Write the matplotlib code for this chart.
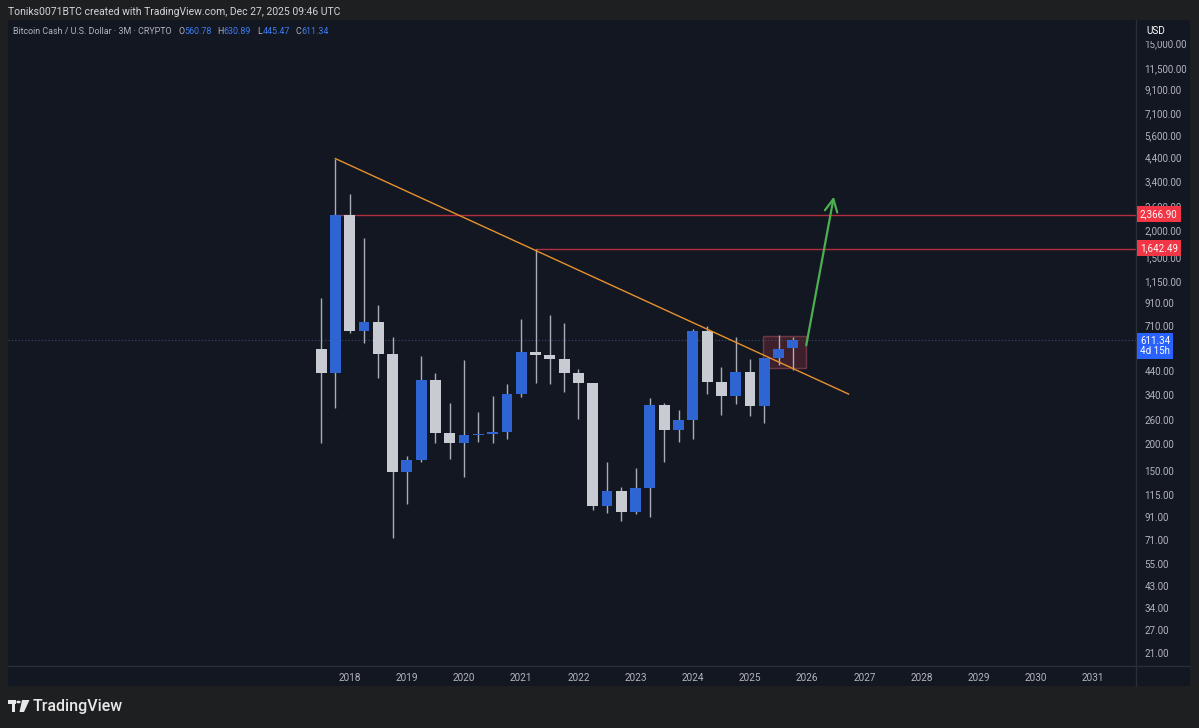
import matplotlib.pyplot as plt
import matplotlib.patches as mpatches
from matplotlib.ticker import FixedLocator, NullLocator

plt.rcParams['font.family'] = ['Roboto', 'DejaVu Sans']

# quarterly candles, 2017 Q3 .. 2025 Q4
opens = [554, 431, 2367, 677, 744, 525, 147, 168, 398, 226, 202, 219, 222.5, 227, 341, 538, 523,
         501, 428, 384, 102.7, 120.7, 96.3, 124, 304, 232, 258.6, 677, 391, 336, 433, 302, 503, 560.78]
highs = [967, 4330, 2947, 1834, 891, 635, 175.5, 516, 431, 310, 494, 281, 336, 380, 771, 1642.49, 802,
         734, 448, 386, 165, 126, 153.7, 327, 310, 288, 690, 713, 459, 635, 498, 507, 647, 630.89]
lows = [202, 293, 660, 595, 406, 72.3, 104.6, 165, 201, 169, 139.5, 204, 201, 211, 332, 384, 381,
        350, 261, 98, 94.6, 87.4, 94, 90.6, 165, 205, 211, 342, 273, 307, 271, 250, 468, 445.47]
closes = [431, 2367, 677, 744, 525, 147, 168, 398, 226, 202, 219, 222.5, 227, 341, 538, 523, 501,
          428, 384, 102.7, 120.7, 96.3, 124, 304, 232, 258.6, 677, 391, 336, 433, 302, 503, 558, 611.34]

years = list(range(2018, 2032))
year_idx = [2 + 4 * i for i in range(len(years))]

price_ticks = [21, 27, 34, 43, 55, 71, 91, 115, 150, 200, 260, 340, 440, 710, 910, 1150, 1500,
               2000, 2600, 3400, 4400, 5600, 7100, 9100, 11500, 15000]

level_hi = 2366.90
level_lo = 1642.49
last_price = 611.34

trend_x = [1, 36.9]
trend_y = [4330, 342]
box_x = [30.9, 33.9]
box_y = [453, 640]
arrow_from = (33.9, 562)
arrow_to = (35.9, 2960)

W, H = 1199, 728
bg_outer = '#1e1f21'
bg_panel = '#131722'
txt = '#b2b5be'
blue = '#2f65d3'
gray = '#c8cbd2'

fig = plt.figure(figsize=(W / 100, H / 100), dpi=100, facecolor=bg_outer)


def fx(px):
    return px / W


def fy(py):
    return 1 - py / H


# panel behind chart + axes
fig.add_artist(mpatches.Rectangle((fx(8), fy(686)), fx(1190 - 8), (686 - 20) / H,
                                  transform=fig.transFigure, facecolor=bg_panel, edgecolor='none', zorder=0))
ax = fig.add_axes([fx(8), fy(666), fx(1136 - 8), (666 - 20) / H])
ax.set_facecolor('none')
ax.patch.set_alpha(0)
for s in ax.spines.values():
    s.set_visible(False)
fig.add_artist(plt.Line2D([fx(1136), fx(1136)], [fy(20), fy(686)], transform=fig.transFigure,
                          color='#2a2e39', lw=1, zorder=1))
fig.add_artist(plt.Line2D([fx(8), fx(1190)], [fy(666), fy(666)], transform=fig.transFigure,
                          color='#2a2e39', lw=1, zorder=1))

ax.set_yscale('log')
ax.set_xlim(-21.9, 57.0)
ax.set_ylim(18.24, 19290)

# candles
xs = list(range(len(opens)))
ax.vlines(xs, lows, highs, color='#a9adb6', lw=1, zorder=3)
for i in xs:
    o, c = opens[i], closes[i]
    col = blue if c >= o else gray
    ax.bar(i, abs(c - o), bottom=min(o, c), width=0.76, color=col, edgecolor='none', zorder=4)

# levels and drawings
ax.axhline(last_price, color='#3a4a6a', lw=0.8, ls=(0, (1, 2)), zorder=2)
ax.plot([1, 57], [level_hi, level_hi], color='#b0303d', lw=1, zorder=2)
ax.plot([15, 57], [level_lo, level_lo], color='#b0303d', lw=1, zorder=2)
ax.plot(trend_x, trend_y, color='#e8912d', lw=1, zorder=5)
ax.add_patch(mpatches.Rectangle((box_x[0], box_y[0]), box_x[1] - box_x[0], box_y[1] - box_y[0],
                                facecolor=(0.55, 0.2, 0.25, 0.35), edgecolor=(0.6, 0.3, 0.35, 0.6),
                                lw=1, zorder=2.5))
ax.annotate('', xy=arrow_to, xytext=arrow_from,
            arrowprops=dict(arrowstyle='->,head_length=0.9,head_width=0.45', color='#4caf50', lw=1.6),
            zorder=6)

# axes ticks
ax.yaxis.tick_right()
ax.yaxis.set_major_locator(FixedLocator(price_ticks))
ax.yaxis.set_minor_locator(NullLocator())
ax.set_yticklabels([f'{v:,.2f}' for v in price_ticks])
ax.tick_params(axis='y', length=0, pad=6, labelsize=7, labelcolor=txt)
ax.set_xticks(year_idx)
ax.set_xticklabels([str(y) for y in years])
ax.tick_params(axis='x', length=0, pad=5, labelsize=7.2, labelcolor=txt)

# price labels on axis
fig.text(fx(1140), fy(214), f'{level_hi:,.2f}', color='white', fontsize=7, va='center', ha='left',
         bbox=dict(boxstyle='square,pad=0.3', facecolor='#f23645', edgecolor='none'), zorder=10)
fig.text(fx(1140), fy(248), f'{level_lo:,.2f}', color='white', fontsize=7, va='center', ha='left',
         bbox=dict(boxstyle='square,pad=0.3', facecolor='#f23645', edgecolor='none'), zorder=10)
fig.text(fx(1140), fy(346), f'{last_price:,.2f}\n4d 15h', color='white', fontsize=7, va='center',
         ha='left', linespacing=1.05,
         bbox=dict(boxstyle='square,pad=0.3', facecolor='#2962ff', edgecolor='none'), zorder=10)
fig.text(fx(1146), fy(31), 'USD', color='white', fontsize=7.2, va='center', ha='left',
         bbox=dict(boxstyle='square,pad=0.5', facecolor=bg_panel, edgecolor='none'), zorder=10)

# header
fig.text(fx(8), fy(12), 'Toniks0071BTC created with TradingView.com, Dec 27, 2025 09:46 UTC',
         color='#d1d4dc', fontsize=7.5, va='center', ha='left')
fig.text(fx(13), fy(31), 'Bitcoin Cash / U.S. Dollar \u00b7 3M \u00b7 CRYPTO', color=txt, fontsize=6.4,
         va='center', ha='left')
ohlc = [('O', opens[-1], 178), ('H', highs[-1], 217), ('L', lows[-1], 257), ('C', closes[-1], 295)]
for lab, val, px in ohlc:
    fig.text(fx(px), fy(31), lab, color=txt, fontsize=6.4, va='center', ha='left')
    fig.text(fx(px + 6), fy(31), f'{val:.2f}', color='#3d7df0', fontsize=6.4, va='center', ha='left')

# TradingView logo
tf = fig.transFigure
fig.add_artist(mpatches.Rectangle((fx(8), fy(704)), fx(8), 4 / H, transform=tf, facecolor='#e8e8e8'))
fig.add_artist(mpatches.Rectangle((fx(11.5), fy(712)), fx(3.5), 8 / H, transform=tf, facecolor='#e8e8e8'))
fig.add_artist(mpatches.Circle((fx(18.5), fy(702)), 2.2 / W, transform=tf, facecolor='#e8e8e8'))
fig.add_artist(mpatches.Polygon([(fx(22), fy(700)), (fx(29.5), fy(700)), (fx(24), fy(712)), (fx(19.5), fy(712))],
                                transform=tf, facecolor='#e8e8e8'))
fig.text(fx(33), fy(706), 'TradingView', color='#e8e8e8', fontsize=11.5, fontweight='medium',
         va='center', ha='left')

fig.savefig('out.png', dpi=100, facecolor=bg_outer)
